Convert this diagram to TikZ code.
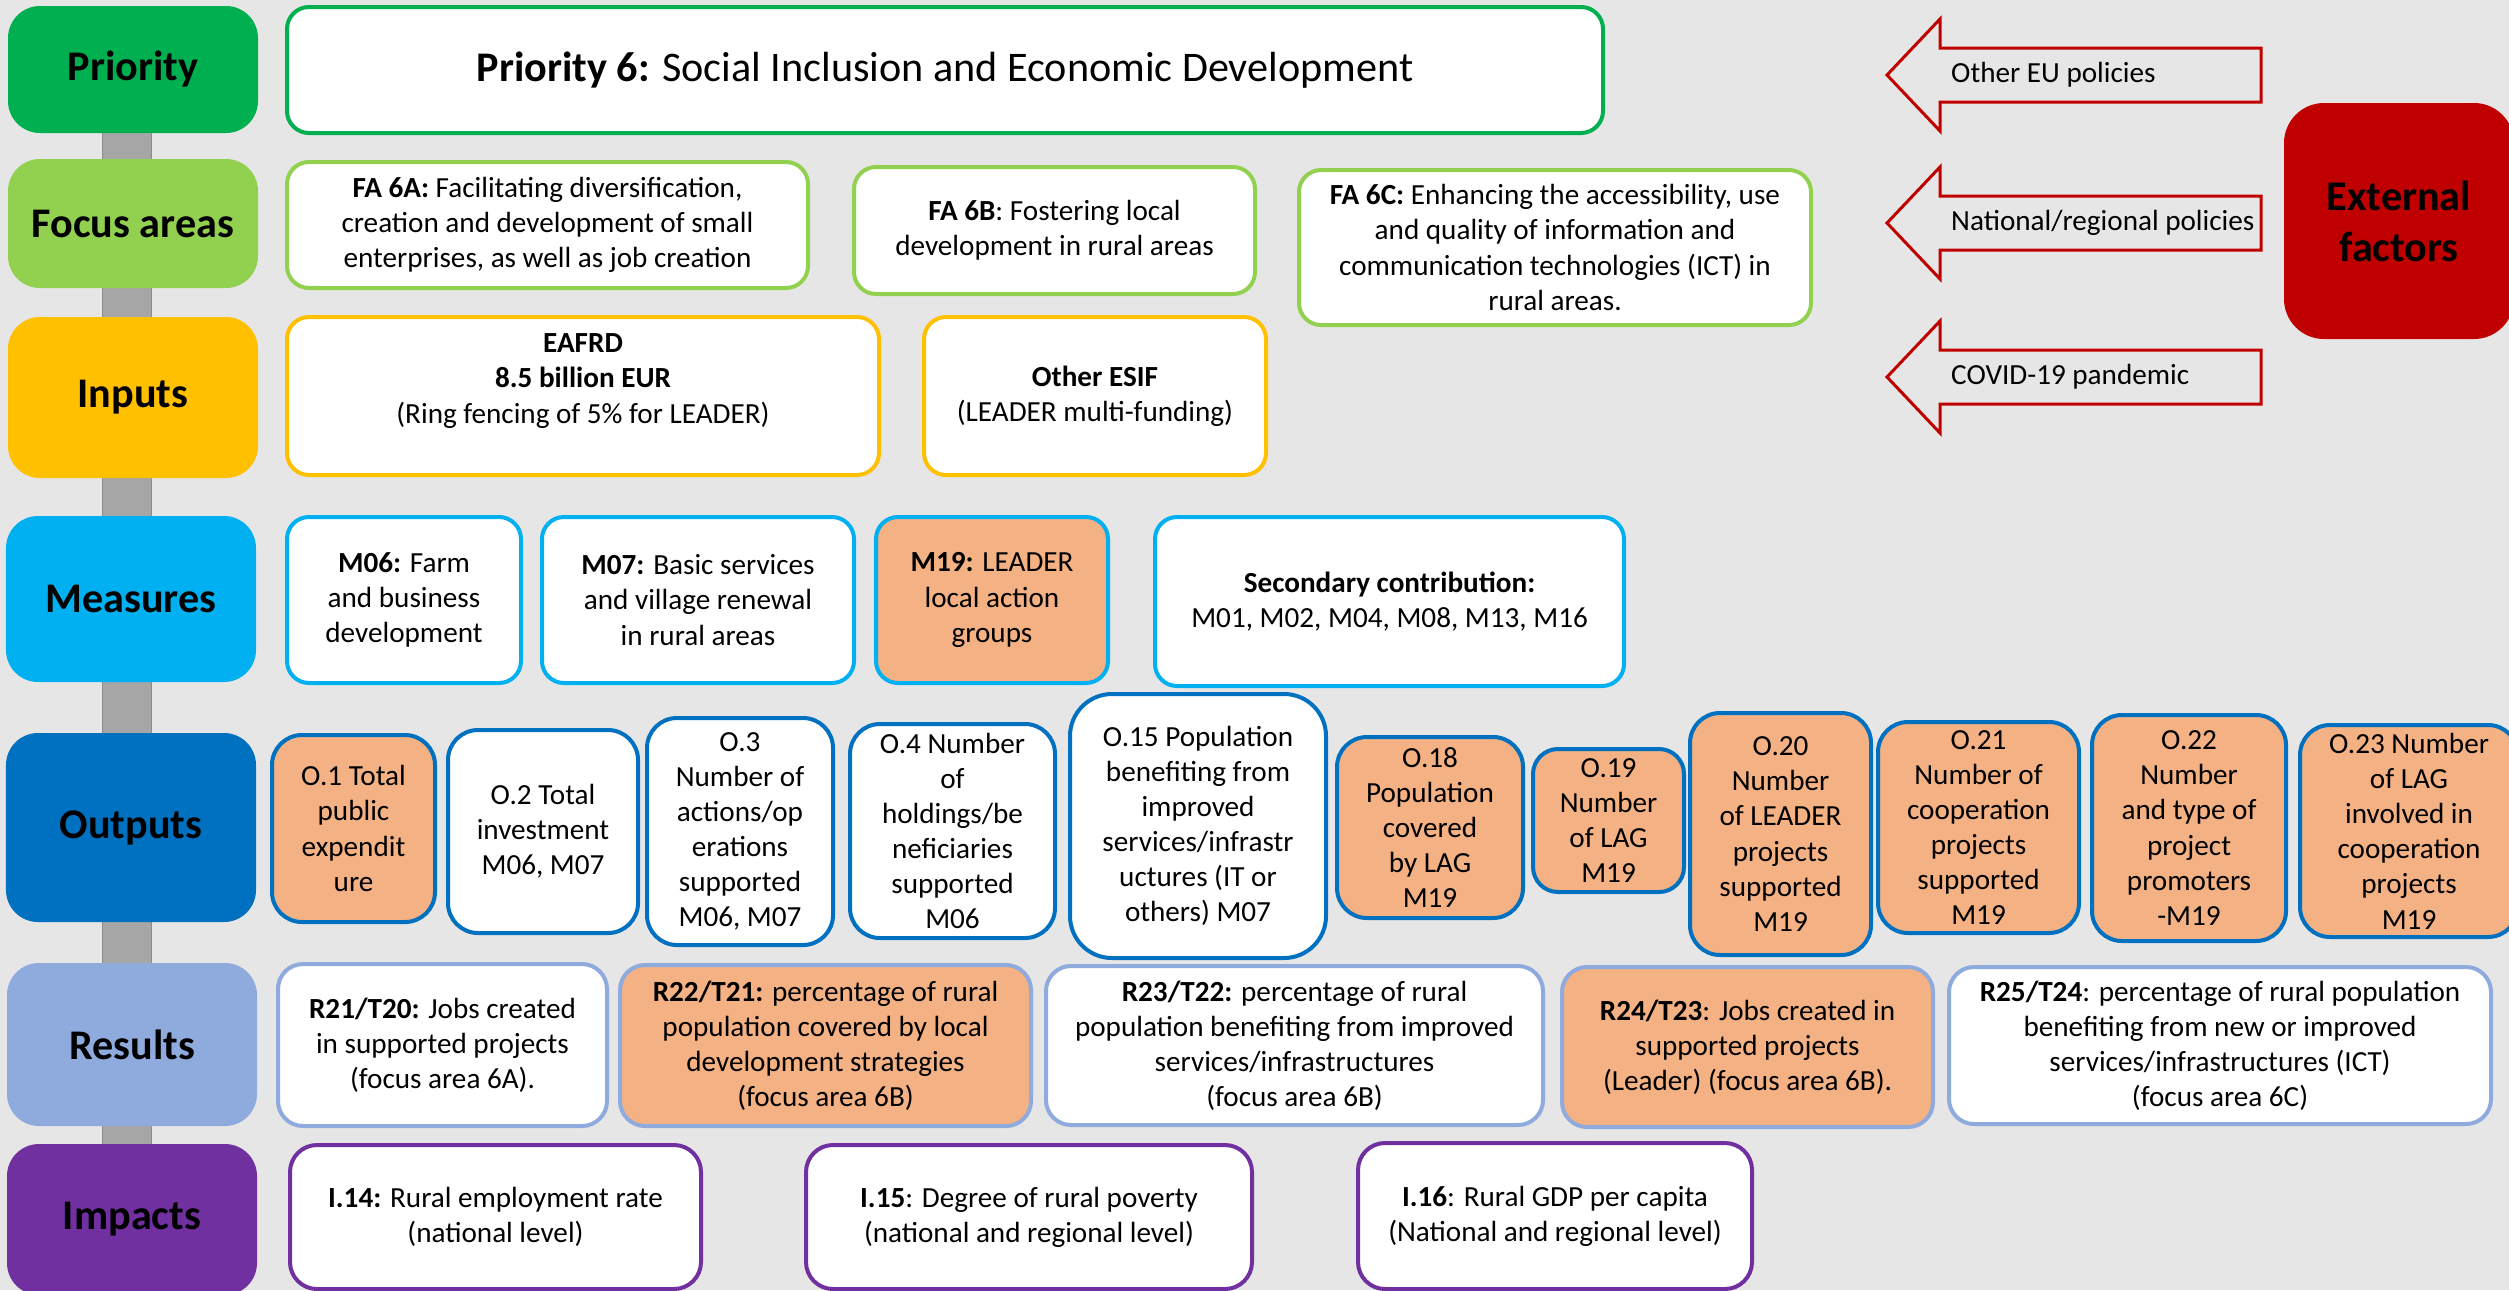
\documentclass[tikz,border=0pt]{standalone}
\usepackage{fontspec}
\setmainfont{Carlito}
\usepackage{tikz}
\usetikzlibrary{positioning}

\definecolor{bgc}{HTML}{E7E6E6}
\definecolor{barfill}{HTML}{A6A6A6}
\definecolor{barline}{HTML}{8C8C8C}
\definecolor{pri}{HTML}{00B050}
\definecolor{fa}{HTML}{92D050}
\definecolor{inp}{HTML}{FFC000}
\definecolor{mea}{HTML}{00B0F0}
\definecolor{outc}{HTML}{0070C0}
\definecolor{res}{HTML}{8FAADC}
\definecolor{imp}{HTML}{7030A0}
\definecolor{leadfill}{HTML}{F4B183}
\definecolor{extred}{HTML}{C00000}

\begin{document}
\begin{tikzpicture}[
    cat/.style={rectangle, rounded corners=0.32cm, fill=#1, minimum width=2.5cm, align=center, font=\fontsize{12}{14.5}\selectfont\bfseries},
    box/.style={rectangle, rounded corners=0.22cm, draw=#1, line width=0.04cm, fill=white, align=center, inner sep=1pt, font=\fontsize{8.3}{10}\selectfont},
    outbox/.style={box=outc, rounded corners=0.3cm},
    leader/.style={fill=leadfill},
    spine/.style={draw=barline, line width=0.012cm, double=barfill, double distance=0.476cm},
    extarrow/.style={draw=extred, line width=0.03cm, line join=miter},
    factor/.style={font=\fontsize{8.3}{10}\selectfont, anchor=west, inner sep=1pt}
]
\useasboundingbox (0,0) rectangle (25.09,-12.90);
\fill[bgc] (0,0) rectangle (25.09,-12.90);

% grey spine behind the level column
\coordinate (spinetop) at (1.27,-0.70);
\coordinate (spinebot) at (1.27,-12.17);
\draw[spine] (spinetop) -- (spinebot);

% === Level column ===
\node[cat=pri, minimum height=1.27cm] (priority) at (1.33,-0.695) {Priority};
\node[cat=fa, minimum height=1.29cm] (focus) at (1.33,-2.235) {Focus areas};
\node[cat=inp, minimum height=1.61cm] (inputs) at (1.33,-3.975) {Inputs};
\node[cat=mea, minimum height=1.66cm] (measures) at (1.31,-5.99) {Measures};
\node[cat=outc, minimum height=1.89cm] (outputs) at (1.31,-8.275) {Outputs};
\node[cat=res, minimum height=1.63cm] (results) at (1.32,-10.445) {Results};
\node[cat=imp, minimum height=1.51cm] (impacts) at (1.32,-12.195) {Impacts};

% === Priority ===
\node[box=pri, minimum width=13.16cm, minimum height=1.26cm, font=\fontsize{12}{14.5}\selectfont] (p6) at (9.45,-0.70)
    {\textbf{Priority 6:} Social Inclusion and Economic Development};

% === Focus areas ===
\node[box=fa, minimum width=5.21cm, minimum height=1.26cm] (fa6a) at (5.475,-2.25)
    {\textbf{FA 6A:} Facilitating diversification,\\ creation and development of small\\ enterprises, as well as job creation};
\node[box=fa, minimum width=4.01cm, minimum height=1.27cm] (fa6b) at (10.545,-2.305)
    {\textbf{FA 6B}: Fostering local\\ development in rural areas};
\node[box=fa, minimum width=5.12cm, minimum height=1.55cm] (fa6c) at (15.55,-2.475)
    {\textbf{FA 6C:} Enhancing the accessibility, use\\ and quality of information and\\ communication technologies (ICT) in\\ rural areas.};

% === Inputs ===
\node[box=inp, minimum width=5.92cm, minimum height=1.58cm] (eafrd) at (5.83,-3.96)
    {\textbf{EAFRD}\\ \textbf{8.5 billion EUR}\\ (Ring fencing of 5\% for LEADER)\\ \mbox{}};
\node[box=inp, minimum width=3.42cm, minimum height=1.58cm] (esif) at (10.95,-3.96)
    {\textbf{Other ESIF}\\ (LEADER multi-funding)};

% === Measures ===
\node[box=mea, minimum width=2.34cm, minimum height=1.66cm] (m06) at (4.04,-6.00)
    {\textbf{M06:} Farm\\ and business\\ development};
\node[box=mea, minimum width=3.12cm, minimum height=1.66cm] (m07) at (6.98,-6.00)
    {\textbf{M07:} Basic services\\ and village renewal\\ in rural areas};
\node[box=mea, leader, minimum width=2.32cm, minimum height=1.66cm] (m19) at (9.92,-6.00)
    {\textbf{M19:} LEADER\\ local action\\ groups};
\node[box=mea, minimum width=4.69cm, minimum height=1.69cm] (msec) at (13.895,-6.015)
    {\textbf{Secondary contribution:}\\ M01, M02, M04, M08, M13, M16};

% === Outputs ===
\node[outbox, leader, minimum width=1.63cm, minimum height=1.87cm] (o1) at (3.535,-8.285)
    {O.1 Total\\ public\\ expendit\\ ure};
\node[outbox, minimum width=1.90cm, minimum height=2.03cm] (o2) at (5.43,-8.315)
    {O.2 Total\\ investment\\ M06, M07};
\node[outbox, minimum width=1.86cm, minimum height=2.27cm] (o3) at (7.40,-8.315)
    {O.3\\ Number of\\ actions/op\\ erations\\ supported\\ M06, M07};
\node[outbox, minimum width=2.05cm, minimum height=2.14cm] (o4) at (9.525,-8.31)
    {O.4 Number\\ of\\ holdings/be\\ neficiaries\\ supported\\ M06};
\node[outbox, rounded corners=0.42cm, minimum width=2.56cm, minimum height=2.64cm] (o15) at (11.98,-8.26)
    {O.15 Population\\ benefiting from\\ improved\\ services/infrastr\\ uctures (IT or\\ others) M07};
\node[outbox, leader, minimum width=1.86cm, minimum height=1.81cm] (o18) at (14.30,-8.275)
    {O.18\\ Population\\ covered\\ by LAG\\ M19};
\node[outbox, leader, rounded corners=0.25cm, minimum width=1.51cm, minimum height=1.43cm] (o19) at (16.085,-8.205)
    {O.19\\ Number\\ of LAG\\ M19};
\node[outbox, leader, minimum width=1.81cm, minimum height=2.42cm] (o20) at (17.805,-8.34)
    {O.20\\ Number\\ of LEADER\\ projects\\ supported\\ M19};
\node[outbox, leader, minimum width=2.01cm, minimum height=2.11cm] (o21) at (19.785,-8.275)
    {O.21\\ Number of\\ cooperation\\ projects\\ supported\\ M19};
\node[outbox, leader, minimum width=1.94cm, minimum height=2.26cm] (o22) at (21.89,-8.28)
    {O.22\\ Number\\ and type of\\ project\\ promoters\\ -M19};
\node[outbox, leader, minimum width=2.18cm, minimum height=2.12cm] (o23) at (24.09,-8.31)
    {O.23 Number\\ of LAG\\ involved in\\ cooperation\\ projects\\ M19};

% === Results ===
\node[box=res, rounded corners=0.25cm, minimum width=3.29cm, minimum height=1.62cm] (r21) at (4.425,-10.45)
    {\textbf{R21/T20:} Jobs created\\ in supported projects\\ (focus area 6A).};
\node[box=res, leader, rounded corners=0.25cm, minimum width=4.11cm, minimum height=1.61cm] (r22) at (8.255,-10.455)
    {\textbf{R22/T21:} percentage of rural\\ population covered by local\\ development strategies\\ (focus area 6B)};
\node[box=res, rounded corners=0.25cm, minimum width=4.97cm, minimum height=1.59cm] (r23) at (12.945,-10.455)
    {\textbf{R23/T22:} percentage of rural\\ population benefiting from improved\\ services/infrastructures\\ (focus area 6B)};
\node[box=res, leader, rounded corners=0.25cm, minimum width=3.71cm, minimum height=1.60cm] (r24) at (17.475,-10.47)
    {\textbf{R24/T23}: Jobs created in\\ supported projects\\ (Leader) (focus area 6B).};
\node[box=res, rounded corners=0.25cm, minimum width=5.42cm, minimum height=1.57cm] (r25) at (22.20,-10.455)
    {\textbf{R25/T24}: percentage of rural population\\ benefiting from new or improved\\ services/infrastructures (ICT)\\ (focus area 6C)};

% === Impacts ===
\node[box=imp, rounded corners=0.27cm, minimum width=4.11cm, minimum height=1.44cm] (i14) at (4.955,-12.17)
    {\textbf{I.14:} Rural employment rate\\ (national level)};
\node[box=imp, rounded corners=0.27cm, minimum width=4.46cm, minimum height=1.44cm] (i15) at (10.29,-12.17)
    {\textbf{I.15}: Degree of rural poverty\\ (national and regional level)};
\node[box=imp, rounded corners=0.27cm, minimum width=3.94cm, minimum height=1.46cm] (i16) at (15.55,-12.16)
    {\textbf{I.16}: Rural GDP per capita\\ (National and regional level)};

% === External factors ===
\node[cat=extred, rounded corners=0.4cm, minimum width=2.30cm, minimum height=2.36cm, font=\fontsize{12}{14.5}\selectfont\bfseries] (ext) at (23.99,-2.21)
    {External\\ factors};

\foreach \ty/\txt [count=\i] in {0.75/{Other EU policies}, 2.23/{National/regional policies}, 3.77/{COVID-19 pandemic}} {
    \draw[extarrow] (18.87,-\ty) -- ++(0.53,0.56) -- ++(0,-0.29) -- ++(3.21,0) -- ++(0,-0.54) -- ++(-3.21,0) -- ++(0,-0.29) -- cycle;
    \node[factor] (policy\i) at (19.47,-\ty) {\txt};
}
\end{tikzpicture}
\end{document}
